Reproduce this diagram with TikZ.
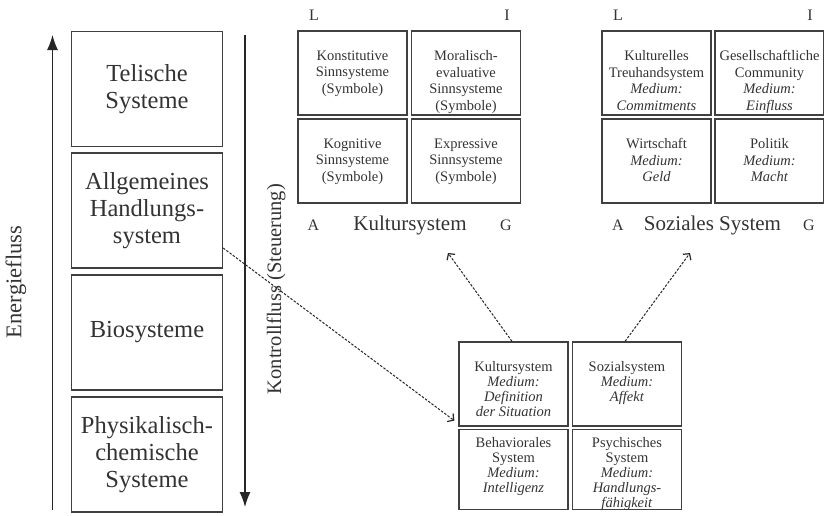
\documentclass[tikz,border=0pt]{standalone}
\usepackage{fontspec}
\setmainfont{Liberation Serif}
\usetikzlibrary{arrows.meta,positioning}

\begin{document}
\begin{tikzpicture}[
x=1pt, y=-1pt,
every node/.style={text=black!80},
sysbox/.style={draw=black!75, line width=1.3pt, minimum width=151pt, minimum height=115pt, align=center, font=\fontsize{24.5}{27}\selectfont},
quad/.style={draw=black!75, line width=1.3pt, minimum width=109pt, minimum height=84pt},
quadtext/.style={anchor=north, inner sep=0pt, align=center, font=\fontsize{14.5}{16.5}\selectfont},
corner/.style={anchor=base, font=\fontsize{16}{16}\selectfont},
title/.style={anchor=base, font=\fontsize{21}{21}\selectfont},
flow/.style={line width=1.2pt, draw=black!85, -{Latex[length=15pt,width=11pt]}},
link/.style={dash pattern=on 2.5pt off 1.5pt, line width=1pt, draw=black!85, -{Straight Barb[length=4.5pt,width=10pt,line width=1.2pt]}}
]
\useasboundingbox (0,0) rectangle (824,515);

% Draw system levels
\node[sysbox] (tel) at (147,89) {Telische\\Systeme};
\node[sysbox] (allg) at (147,210.5) {Allgemeines\\Handlungs-\\system};
\node[sysbox] (bio) at (147,332.5) {Biosysteme};
\node[sysbox] (phys) at (147,454.5) {Physikalisch-\\chemische\\Systeme};

\coordinate (ebot) at (52.5,510);
\coordinate (etop) at (52.5,35);
\coordinate (ktop) at (245,35);
\coordinate (kbot) at (245,507);
\draw[flow] (ebot) -- (etop);
\draw[flow] (ktop) -- (kbot);
\node[rotate=90, font=\fontsize{22.5}{22.5}\selectfont] (energie) at (16,282) {Energiefluss};
\node[rotate=90, font=\fontsize{20.5}{20.5}\selectfont] (kontroll) at (276,289) {Kontrollfluss (Steuerung)};

% Kultursystem
\node[quad] (kL) at (352.5,73) {};
\node[quad] (kI) at (466,73) {};
\node[quad] (kA) at (352.5,161) {};
\node[quad] (kG) at (466,161) {};
\node[quadtext] (kLt) at ([yshift=-20pt]kL.north) {Konstitutive\\Sinnsysteme\\(Symbole)};
\node[quadtext] (kIt) at ([yshift=-20pt]kI.north) {Moralisch-\\evaluative\\Sinnsysteme\\(Symbole)};
\node[quadtext] (kAt) at ([yshift=-20pt]kA.north) {Kognitive\\Sinnsysteme\\(Symbole)};
\node[quadtext] (kGt) at ([yshift=-20pt]kG.north) {Expressive\\Sinnsysteme\\(Symbole)};
\node[corner] (kl) at (314,20) {L};
\node[corner] (ki) at (507,20) {I};
\node[corner] (ka) at (313.5,230) {A};
\node[corner] (kg) at (506,230) {G};
\node[title] (ktitle) at (410,230) {Kultursystem};

% Soziales System
\node[quad] (sL) at (656.5,73) {};
\node[quad] (sI) at (769.5,73) {};
\node[quad] (sA) at (656.5,161) {};
\node[quad] (sG) at (769.5,161) {};
\node[quadtext] (sLt) at ([yshift=-20pt]sL.north) {Kulturelles\\Treuhandsystem\\\textit{Medium:}\\\textit{Commitments}};
\node[quadtext] (sIt) at ([yshift=-20pt]sI.north) {Gesellschaftliche\\Community\\\textit{Medium:}\\\textit{Einfluss}};
\node[quadtext] (sAt) at ([yshift=-20pt]sA.north) {Wirtschaft\\\textit{Medium:}\\\textit{Geld}};
\node[quadtext] (sGt) at ([yshift=-20pt]sG.north) {Politik\\\textit{Medium:}\\\textit{Macht}};
\node[corner] (sl) at (618,20) {L};
\node[corner] (si) at (810,20) {I};
\node[corner] (sa) at (618,230) {A};
\node[corner] (sg) at (809,230) {G};
\node[title] (stitle) at (712.5,230) {Soziales System};

% Handlungssystem
\node[quad] (hL) at (513.5,384) {};
\node[quad] (hI) at (627,384) {};
\node[quad, minimum height=80pt] (hA) at (513.5,469.5) {};
\node[quad, minimum height=80pt] (hG) at (627,469.5) {};
\node[quadtext, font=\fontsize{14.5}{15}\selectfont] (hLt) at ([yshift=-20pt]hL.north) {Kultursystem\\\textit{Medium:}\\\textit{Definition}\\\textit{der Situation}};
\node[quadtext, font=\fontsize{14.5}{15}\selectfont] (hIt) at ([yshift=-20pt]hI.north) {Sozialsystem\\\textit{Medium:}\\\textit{Affekt}};
\node[quadtext, font=\fontsize{14.5}{15}\selectfont] (hAt) at ([yshift=-8pt]hA.north) {Behaviorales\\System\\\textit{Medium:}\\\textit{Intelligenz}};
\node[quadtext, font=\fontsize{14.5}{15}\selectfont] (hGt) at ([yshift=-8pt]hG.north) {Psychisches\\System\\\textit{Medium:}\\\textit{Handlungs-}\\\textit{fähigkeit}};

\coordinate (kTip) at (448,253);
\coordinate (sTip) at (690,253);
\draw[link] ([yshift=-37.5pt]allg.east) -- ([xshift=-4pt,yshift=6pt]hL.south west);
\draw[link] ([xshift=-1.5pt]hL.north) -- (kTip);
\draw[link] ([xshift=-2pt]hI.north) -- (sTip);
\end{tikzpicture}
\end{document}
